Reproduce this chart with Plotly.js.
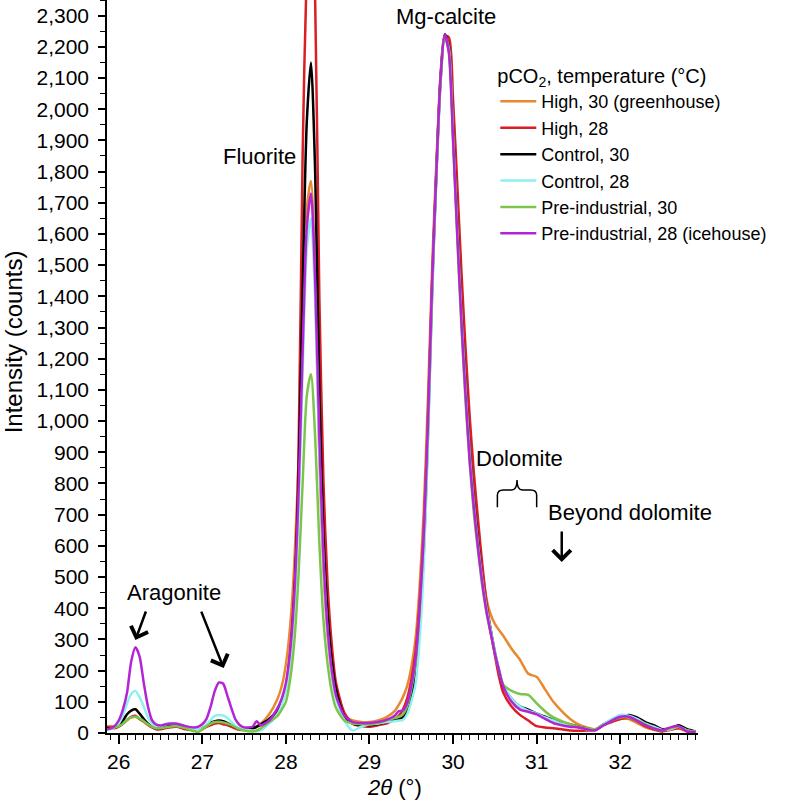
<!DOCTYPE html>
<html>
<head>
<meta charset="utf-8">
<script src="https://cdn.plot.ly/plotly-3.0.1.min.js"></script>
<style>
  html, body { margin: 0; padding: 0; background: #fff; }
  #chart { width: 788px; height: 804px; }
</style>
</head>
<body>
<div id="chart"></div>
<script>
// 2-theta grid shared by all patterns (finer around the fluorite and Mg-calcite peaks)
const twoTheta = [
  25.86, 25.9, 25.95, 26.0, 26.05, 26.1, 26.15, 26.2, 26.25, 26.3, 26.35, 26.4, 26.45, 26.5,
  26.6, 26.7, 26.8, 26.9, 26.95, 27.0, 27.05, 27.1, 27.15, 27.2, 27.25, 27.3, 27.35, 27.4, 27.45, 27.5,
  27.6, 27.65, 27.7, 27.8, 27.9, 27.95, 28.0,
  28.05, 28.1, 28.15, 28.2, 28.25, 28.3, 28.35, 28.4, 28.45, 28.5, 28.55, 28.6,
  28.7, 28.8, 28.9, 29.0, 29.1, 29.2, 29.3, 29.35, 29.4, 29.45, 29.5, 29.55, 29.6,
  29.65, 29.7, 29.75, 29.8, 29.85, 29.9, 29.95, 30.0, 30.05, 30.1, 30.15, 30.2, 30.25, 30.3,
  30.35, 30.4, 30.45, 30.5, 30.55, 30.6, 30.7, 30.8, 30.9, 31.0,
  31.1, 31.2, 31.3, 31.4, 31.5, 31.6, 31.7, 31.8, 31.9, 32.0, 32.1, 32.2, 32.3, 32.4, 32.5, 32.6, 32.7, 32.8, 32.9
];

// intensities (counts)
const highT30 = [
  20, 22, 22, 25, 30, 42, 50, 52, 45, 35, 25, 18, 14, 15,
  22, 25, 18, 12, 10, 15, 22, 28, 33, 35, 33, 28, 22, 16, 12, 10,
  15, 22, 30, 60, 110, 150, 220,
  340, 540, 860, 1300, 1680, 1770, 1450, 880, 520, 310, 190, 115,
  55, 40, 35, 35, 40, 50, 70, 90, 115, 150, 210, 300, 470,
  720, 1080, 1500, 1830, 2110, 2230, 2190, 1930, 1640, 1370, 1130, 930, 770, 640,
  520, 430, 380, 350, 330, 312, 270, 235, 190, 180,
  140, 100, 70, 45, 28, 18, 12, 25, 38, 45, 45, 32, 18, 10, 6, 12, 15, 5, 3
];
const highT28 = [
  20, 18, 15, 20, 30, 42, 52, 55, 45, 38, 28, 18, 12, 12,
  18, 20, 12, 8, 5, 12, 20, 25, 30, 32, 28, 25, 20, 14, 10, 10,
  15, 20, 25, 40, 70, 100, 150,
  260, 460, 870, 1850, 2450, 2700, 2350, 1400, 800, 470, 280, 160,
  65, 30, 22, 20, 25, 30, 45, 55, 75, 110, 170, 260, 420,
  660, 1020, 1450, 1800, 2100, 2235, 2230, 2030, 1760, 1480, 1230, 1010, 830, 680,
  540, 420, 330, 250, 180, 130, 85, 58, 40, 22,
  18, 15, 12, 8, 7, 8, 10, 25, 35, 45, 48, 38, 22, 12, 5, 10, 15, 8, 3
];
const controlT30 = [
  15, 15, 18, 25, 40, 60, 72, 76, 62, 45, 30, 20, 15, 15,
  22, 25, 15, 8, 6, 15, 25, 33, 38, 40, 38, 32, 25, 18, 12, 12,
  15, 20, 28, 45, 75, 100, 145,
  245, 430, 800, 1420, 1960, 2150, 1800, 1100, 630, 380, 230, 140,
  55, 30, 25, 25, 28, 35, 40, 45, 50, 75, 120, 180, 340,
  580, 960, 1420, 1790, 2090, 2240, 2200, 1930, 1630, 1350, 1110, 900, 740, 610,
  490, 400, 330, 260, 200, 150, 110, 85, 75, 62,
  52, 42, 33, 28, 20, 15, 10, 28, 42, 52, 58, 50, 35, 25, 12, 15, 25, 12, 5
];
const controlT28 = [
  10, 12, 18, 30, 55, 95, 125, 135, 115, 85, 50, 30, 22, 22,
  32, 30, 20, 12, 10, 15, 28, 42, 55, 58, 56, 48, 35, 22, 15, 12,
  8, 5, 8, 30, 60, 90, 135,
  230, 400, 700, 1150, 1550, 1650, 1380, 900, 550, 320, 190, 110,
  40, 8, 20, 28, 30, 35, 38, 40, 42, 60, 100, 155, 300,
  540, 930, 1400, 1780, 2080, 2235, 2195, 1920, 1620, 1340, 1100, 890, 730, 600,
  490, 400, 330, 262, 205, 155, 110, 85, 72, 62,
  50, 40, 30, 25, 18, 12, 10, 28, 45, 58, 55, 45, 30, 20, 10, 12, 20, 8, 4
];
const preIndT30 = [
  12, 14, 18, 22, 30, 42, 50, 52, 47, 38, 28, 20, 15, 15,
  20, 22, 15, 6, 3, 12, 22, 30, 35, 36, 34, 30, 25, 18, 12, 8,
  5, 8, 15, 35, 55, 75, 100,
  170, 290, 500, 800, 1080, 1150, 950, 610, 360, 220, 130, 80,
  40, 30, 28, 28, 32, 40, 48, 52, 60, 85, 140, 220, 390,
  630, 990, 1440, 1800, 2090, 2235, 2185, 1900, 1590, 1300, 1060, 860, 700, 580,
  470, 385, 320, 255, 200, 155, 135, 125, 122, 95,
  70, 50, 38, 28, 20, 15, 12, 25, 40, 50, 50, 40, 28, 15, 8, 15, 20, 8, 3
];
const preIndT28 = [
  12, 14, 22, 40, 75, 130, 230, 275, 245, 160, 85, 40, 27, 24,
  30, 30, 22, 18, 20, 28, 45, 85, 135, 162, 158, 120, 78, 42, 25, 18,
  20, 38, 25, 40, 80, 110, 160,
  260, 440, 760, 1220, 1620, 1730, 1450, 950, 560, 330, 200, 120,
  55, 35, 32, 32, 35, 42, 55, 70, 72, 95, 150, 235, 400,
  640, 1000, 1450, 1800, 2100, 2240, 2180, 1900, 1600, 1320, 1080, 870, 720, 590,
  480, 390, 320, 255, 200, 150, 100, 75, 68, 60,
  45, 32, 25, 20, 18, 12, 8, 25, 40, 52, 52, 40, 25, 15, 8, 18, 22, 5, 3
];

const seriesNames = [
  "High, 30 (greenhouse)",
  "High, 28",
  "Control, 30",
  "Control, 28",
  "Pre-industrial, 30",
  "Pre-industrial, 28 (icehouse)"
];
const seriesValues = [highT30, highT28, controlT30, controlT28, preIndT30, preIndT28];
const seriesColors = ["#e8892f", "#d91f24", "#000000", "#8ff0f2", "#7cc54c", "#b424d6"];

const FONT = "Liberation Sans, Arial, Helvetica, sans-serif";

const traces = seriesValues.map((vals, i) => ({
  x: twoTheta,
  y: vals,
  name: seriesNames[i],
  type: "scatter",
  mode: "lines",
  line: { color: seriesColors[i], width: 2.5, shape: "spline", smoothing: 0.7 },
  hoverinfo: "x+y+name"
}));

// label positions are in axis units
const labelText = (text, x, y) => ({
  text, x, y, xref: "x", yref: "y", showarrow: false,
  xanchor: "center", yanchor: "middle",
  font: { family: FONT, size: 22, color: "#000" }
});
const pointer = (x, y, ax, ay) => ({
  text: "", x, y, xref: "x", yref: "y", ax, ay,
  showarrow: true, arrowhead: 4, arrowsize: 1.4, arrowwidth: 2.5, arrowcolor: "#000"
});

const annotations = [
  labelText("Mg-calcite", 29.92, 2298),
  labelText("Fluorite", 27.69, 1849),
  labelText("Dolomite", 30.8, 880),
  labelText("Beyond dolomite", 32.12, 708),
  labelText("Aragonite", 26.66, 449),
  pointer(26.2, 298, 11, -30),
  pointer(27.256, 208, -23, -58),
  pointer(31.3, 548, 0, -32),
  {
    text: "Intensity (counts)", textangle: -90,
    xref: "paper", yref: "paper", x: -0.159, y: 0.533,
    xanchor: "center", yanchor: "middle", showarrow: false,
    font: { family: FONT, size: 24, color: "#000" }
  },
  {
    text: "<i>2θ</i> (°)",
    xref: "paper", yref: "paper", x: 0.486, y: -0.074,
    xanchor: "center", yanchor: "middle", showarrow: false,
    font: { family: FONT, size: 22, color: "#000" }
  }
];

// curly brace over the dolomite range
const brace = {
  type: "path", xref: "x", yref: "y",
  path: "M30.53,724 L30.53,762 Q30.53,779 30.6,779 L30.7,779 Q30.765,779 30.765,811 " +
        "Q30.765,779 30.83,779 L30.93,779 Q31.0,779 31.0,762 L31.0,724",
  line: { color: "#000", width: 1.5 }
};

const layout = {
  width: 788,
  height: 804,
  margin: { l: 107, r: 90, t: 0, b: 71 },
  paper_bgcolor: "#fff",
  plot_bgcolor: "#fff",
  font: { family: FONT, size: 21, color: "#000" },
  showlegend: true,
  legend: {
    x: 0.657, y: 0.922, xanchor: "left", yanchor: "top",
    bgcolor: "rgba(0,0,0,0)",
    itemwidth: 36,
    font: { family: FONT, size: 18, color: "#000" },
    title: { text: "pCO<sub>2</sub>, temperature (°C)", font: { family: FONT, size: 20, color: "#000" } }
  },
  xaxis: {
    range: [25.86, 32.93],
    dtick: 1, tick0: 0,
    ticks: "outside", ticklen: 9, tickwidth: 1.5, tickcolor: "#000",
    minor: { dtick: 0.1, ticklen: 5, tickwidth: 1.2, tickcolor: "#000", ticks: "outside" },
    showline: true, linecolor: "#000", linewidth: 1.5,
    showgrid: false, zeroline: false,
    tickfont: { family: FONT, size: 21, color: "#000" }
  },
  yaxis: {
    range: [0, 2350],
    dtick: 100, tick0: 0, tickformat: ",d",
    ticks: "outside", ticklen: 7, tickwidth: 1.5, tickcolor: "#000",
    minor: { dtick: 50, ticklen: 5, tickwidth: 1.2, tickcolor: "#000", ticks: "outside" },
    ticklabelstandoff: 5,
    showline: true, linecolor: "#000", linewidth: 1.5,
    showgrid: false, zeroline: false,
    tickfont: { family: FONT, size: 21, color: "#000" }
  },
  annotations: annotations,
  shapes: [brace]
};

Plotly.newPlot("chart", traces, layout, { displayModeBar: false, responsive: false });
</script>
</body>
</html>
